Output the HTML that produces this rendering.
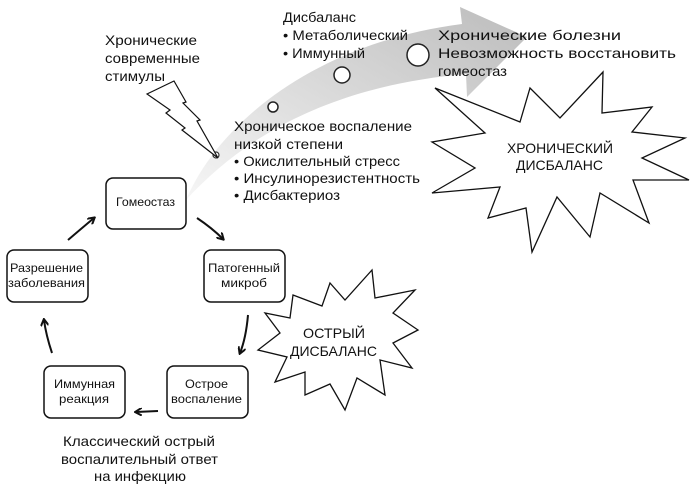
<!DOCTYPE html>
<html><head><meta charset="utf-8"><style>
body{margin:0;background:#fff}
svg{display:block}
text{font-family:"Liberation Sans","Noto Sans CJK SC",sans-serif;fill:#111}
</style></head><body>
<svg width="700" height="489" viewBox="0 0 700 489" xmlns="http://www.w3.org/2000/svg">
<defs>
<linearGradient id="g" x1="0" y1="1" x2="1" y2="0">
<stop offset="0" stop-color="#f6f6f6"/><stop offset="1" stop-color="#bcbcbc"/></linearGradient>
<marker id="a" markerWidth="8" markerHeight="8" refX="6" refY="4" orient="auto" markerUnits="userSpaceOnUse">
<path d="M0,0 L7,4 L0,8" fill="none" stroke="#111" stroke-width="2"/></marker>
</defs>
<path d="M186,200 C220,120 320,42 462,24 L460,7 L527,37 L467,97 L466,74 C340,85 250,130 186,200 Z" fill="url(#g)"/>
<circle cx="216" cy="155" r="3" fill="#fff" stroke="#333" stroke-width="1.2"/>
<circle cx="273" cy="107" r="5" fill="#fff" stroke="#222" stroke-width="1.5"/>
<circle cx="342" cy="75" r="8" fill="#fff" stroke="#222" stroke-width="1.5"/>
<circle cx="418" cy="55" r="11" fill="#fff" stroke="#222" stroke-width="1.5"/>
<path d="M147,94 L174,81 L186,102 L183,103 L200,120 L197,121 L218,158 L182,130 L185,128 L166,113 L170,110 Z" fill="#fff" stroke="#111" stroke-width="1.2"/>
<polygon points="435,88 520,122 530,88 560,118 603,72 602,113 652,107 632,132 685,138 642,158 689,180 633,180 649,223 600,193 590,237 557,197 532,252 526,208 488,218 500,187 432,193 475,168 432,142 485,133" fill="#fff" stroke="#111" stroke-width="1.3"/>
<text x="507" y="153" font-size="14" textLength="106" lengthAdjust="spacingAndGlyphs">ХРОНИЧЕСКИЙ</text>
<text x="516" y="170" font-size="14" textLength="87" lengthAdjust="spacingAndGlyphs">ДИСБАЛАНС</text>
<polygon points="293,295 322,306 330,283 345,300 372,270 375,298 415,290 393,313 418,330 393,343 412,368 380,360 385,395 357,378 345,410 330,384 305,395 305,372 275,382 287,357 258,350 280,333 265,313 290,318" fill="#fff" stroke="#111" stroke-width="1.3"/>
<text x="303" y="338" font-size="14" textLength="62" lengthAdjust="spacingAndGlyphs">ОСТРЫЙ</text>
<text x="290" y="356" font-size="14" textLength="87" lengthAdjust="spacingAndGlyphs">ДИСБАЛАНС</text>
<g fill="#fff" stroke="#111" stroke-width="1.5">
<rect x="106" y="178" width="80" height="51" rx="7"/>
<rect x="204" y="250" width="81" height="52" rx="7"/>
<rect x="7" y="250" width="81" height="52" rx="7"/>
<rect x="44" y="366" width="81" height="52" rx="7"/>
<rect x="167" y="366" width="81" height="52" rx="7"/>
</g>
<g font-size="12" lengthAdjust="spacingAndGlyphs">
<text x="116" y="206" textLength="59" lengthAdjust="spacingAndGlyphs">Гомеостаз</text>
<text x="208" y="272" textLength="72" lengthAdjust="spacingAndGlyphs">Патогенный</text>
<text x="221" y="287" textLength="46" lengthAdjust="spacingAndGlyphs">микроб</text>
<text x="10" y="272" textLength="73" lengthAdjust="spacingAndGlyphs">Разрешение</text>
<text x="8" y="287" textLength="77" lengthAdjust="spacingAndGlyphs">заболевания</text>
<text x="54" y="388" textLength="61" lengthAdjust="spacingAndGlyphs">Иммунная</text>
<text x="59" y="403" textLength="50" lengthAdjust="spacingAndGlyphs">реакция</text>
<text x="185" y="388" textLength="43" lengthAdjust="spacingAndGlyphs">Острое</text>
<text x="171" y="403" textLength="71" lengthAdjust="spacingAndGlyphs">воспаление</text>
</g>
<g fill="none" stroke="#111" stroke-width="2" marker-end="url(#a)">
<path d="M197,218 Q212,228 223,239"/>
<path d="M248,315 Q246,338 240,353"/>
<path d="M158,411 L136,412"/>
<path d="M52,353 Q46,335 44,320"/>
<path d="M68,240 Q82,228 94,218"/>
</g>
<g font-size="14">
<text x="105" y="45" textLength="92" lengthAdjust="spacingAndGlyphs">Хронические</text>
<text x="105" y="63" textLength="95" lengthAdjust="spacingAndGlyphs">современные</text>
<text x="105" y="81" textLength="60" lengthAdjust="spacingAndGlyphs">стимулы</text>
<text x="283" y="22" textLength="73" lengthAdjust="spacingAndGlyphs">Дисбаланс</text>
<text x="283" y="40" textLength="125" lengthAdjust="spacingAndGlyphs">• Метаболический</text>
<text x="283" y="58" textLength="82" lengthAdjust="spacingAndGlyphs">• Иммунный</text>
<text x="438" y="40" textLength="183" lengthAdjust="spacingAndGlyphs">Хронические болезни</text>
<text x="438" y="58" textLength="238" lengthAdjust="spacingAndGlyphs">Невозможность восстановить</text>
<text x="438" y="76" textLength="69" lengthAdjust="spacingAndGlyphs">гомеостаз</text>
<text x="234" y="131" textLength="178" lengthAdjust="spacingAndGlyphs">Хроническое воспаление</text>
<text x="234" y="149" textLength="109" lengthAdjust="spacingAndGlyphs">низкой степени</text>
<text x="234" y="166" textLength="166" lengthAdjust="spacingAndGlyphs">• Окислительный стресс</text>
<text x="234" y="183" textLength="186" lengthAdjust="spacingAndGlyphs">• Инсулинорезистентность</text>
<text x="234" y="200" textLength="106" lengthAdjust="spacingAndGlyphs">• Дисбактериоз</text>
</g>
<g font-size="14">
<text x="63" y="446" textLength="152" lengthAdjust="spacingAndGlyphs">Классический острый</text>
<text x="61" y="464" textLength="157" lengthAdjust="spacingAndGlyphs">воспалительный ответ</text>
<text x="94" y="481" textLength="92" lengthAdjust="spacingAndGlyphs">на инфекцию</text>
</g>
</svg>
</body></html>
